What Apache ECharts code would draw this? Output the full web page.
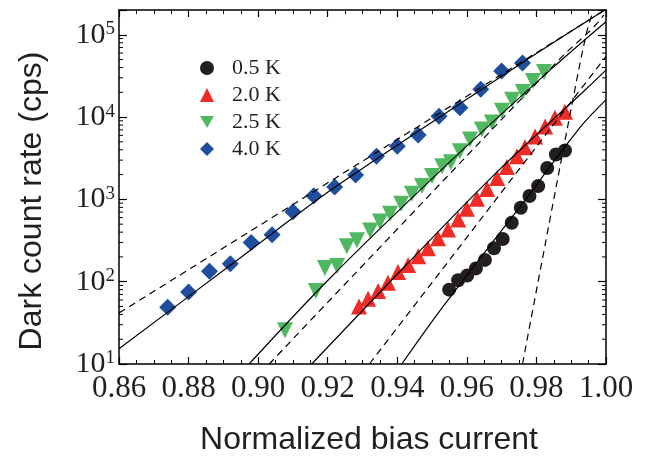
<!DOCTYPE html>
<html><head><meta charset="utf-8">
<script src="https://cdn.jsdelivr.net/npm/echarts@6/dist/echarts.min.js"></script>
<style>html,body{margin:0;padding:0;background:#fff}#c{width:663px;height:461px}</style>
</head><body><div id="c"></div>
<script>
// ---- axis ranges / ticks ----
const X_MIN = 0.86, X_MAX = 1.00, X_STEP = 0.02;
const Y_MIN = 10, Y_MAX = 200000;
const yTickExponents = [1, 2, 3, 4, 5];
const xTickLabels = ['0.86','0.88','0.90','0.92','0.94','0.96','0.98','1.00'];
const seriesNames = ['0.5 K', '2.0 K', '2.5 K', '4.0 K'];

// ---- measured data ----
const k05X = [0.9549,0.9575,0.9601,0.9626,0.9652,0.9678,0.9703,0.9729,0.9755,0.9780,0.9805,0.9831,0.9856,0.9882];
const k05Y = [80,104,119,145,184,255,330,520,790,1100,1450,2410,3510,3930];

const k20X = [0.9290,0.9316,0.9345,0.9373,0.9402,0.9431,0.9460,0.9488,0.9517,0.9546,0.9575,0.9600,0.9629,0.9658,0.9687,0.9715,0.9744,0.9767,0.9796,0.9825,0.9853,0.9882];
const k20Y = [50,62,77,97,131,159,204,255,336,431,569,771,1016,1341,1818,2466,3344,4288,5810,7670,9840,11610];

const k25X = [0.9077,0.9166,0.9192,0.9227,0.9255,0.9284,0.9322,0.9350,0.9379,0.9411,0.9442,0.9471,0.9500,0.9529,0.9554,0.9580,0.9609,0.9643,0.9672,0.9701,0.9730,0.9761,0.9790,0.9822];
const k25Y = [25.7,77,147,155,269,318,419,538,671,885,1167,1456,1921,2534,2833,3840,5350,7060,8570,11950,16200,20200,27400,35200];

const k40X = [0.874,0.880,0.886,0.892,0.898,0.904,0.910,0.916,0.922,0.928,0.934,0.940,0.946,0.952,0.958,0.964,0.970,0.976];
const k40Y = [49,75,134,165,300,372,710,1110,1410,1980,3340,4410,6060,10200,13000,21800,36400,45400];

// ---- fit curves (solid / dashed) ----
const fit40SolidX = [0.86,0.8919,0.9207,0.9494,0.9758,0.9993];
const fit40SolidY = [15.3,157,1279,8340,45400,195400];
const fit40DashX = [0.86,0.9993];
const fit40DashY = [41.6,195400];
const fit25SolidX = [0.8974,0.9207,0.9523,0.9839,1.0];
const fit25SolidY = [10,111,2208,37150,144200];
const fit25DashX = [0.9032,0.9207,0.9868,0.9964,0.9994];
const fit25DashY = [10,60.4,51300,123000,175000];
const fit20SolidX = [0.9154,0.9417,0.9695,0.9940,1.0];
const fit20SolidY = [10,146.6,2333,21330,37150];
const fit20DashX = [0.9320,1.0];
const fit20DashY = [10,54700];
const fit05SolidX = [0.9413,0.9533,0.9755,0.9925,1.0];
const fit05SolidY = [10,50.8,838,7460,16180];
const fit05DashX = [0.9760,0.9901,0.99445,0.9964];
const fit05DashY = [10,13450,107300,199500];

const colors = { k05:'#231f20', k20:'#ee2b24', k25:'#4fb860', k40:'#1f4e9f' };
const TXT = '#231f20';
const SERIF = 'Liberation Serif';
const SANS = 'Liberation Sans';

function zip(a, b){ return a.map((v,i)=>[v, b[i]]); }

// minor log ticks (2..9 x 10^k)
const minorY = [];
for (let e = yTickExponents[0]; e <= yTickExponents[yTickExponents.length-1]; e++) {
  for (let m = 2; m <= 9; m++) { const v = m * Math.pow(10, e); if (v < Y_MAX) minorY.push(v); }
}

function fitLine(xs, ys, dashed){
  return {
    type:'line', data: zip(xs, ys), showSymbol:false, symbol:'none', silent:true,
    smooth: xs.length > 2 ? 0.35 : false, z: 5,
    lineStyle:{ color:'#000', width:1.2, type: dashed ? [7,5] : 'solid' }
  };
}
function scatter(name, xs, ys, symbol, size, color){
  return { type:'scatter', name, data: zip(xs, ys), symbol, symbolSize:size,
    itemStyle:{ color, opacity:1 }, z:3 };
}

const chart = echarts.init(document.getElementById('c'), null, {renderer:'canvas'});
const xAxisCommon = {
  type:'value', min:X_MIN, max:X_MAX, interval:X_STEP,
  axisLine:{ show:true, onZero:false, lineStyle:{ color:'#000', width:1.5 } },
  axisTick:{ show:true, inside:true, length:7, lineStyle:{ color:'#000', width:1.2 } },
  minorTick:{ show:true, splitNumber:4, length:4, lineStyle:{ color:'#000', width:1 } },
  splitLine:{ show:false }
};
const yAxisCommon = {
  type:'log', logBase:10, min:Y_MIN, max:Y_MAX,
  axisLine:{ show:true, onZero:false, lineStyle:{ color:'#000', width:1.5 } },
  axisTick:{ show:true, inside:true, length:8, lineStyle:{ color:'#000', width:1.2 } },
  minorTick:{ show:false }, splitLine:{ show:false }
};

chart.setOption({
  animation:false,
  backgroundColor:'#fff',
  grid:{ left:119, right:57, top:10, bottom:94, containLabel:false },
  legend:{
    data: seriesNames, orient:'vertical', left:195, top:52,
    itemWidth:14, itemHeight:14, itemGap:5,
    textStyle:{ fontFamily:SERIF, fontSize:22, color:TXT, padding:[0,0,0,13] }
  },
  xAxis:[
    Object.assign({}, xAxisCommon, {
      position:'bottom',
      name:'Normalized bias current', nameLocation:'middle', nameGap:60,
      nameTextStyle:{ fontFamily:SANS, fontSize:32, color:TXT, padding:[0,0,0,13] },
      axisLabel:{ show:true, margin:9, fontFamily:SERIF, fontSize:31, color:TXT,
        formatter: v => { const i = Math.round((v - X_MIN)/X_STEP); return xTickLabels[i] || ''; } }
    }),
    Object.assign({}, xAxisCommon, { position:'top', axisLabel:{ show:false } })
  ],
  yAxis:[
    Object.assign({}, yAxisCommon, {
      position:'left',
      name:'Dark count rate (cps)', nameLocation:'middle', nameGap:71, nameRotate:90,
      nameTextStyle:{ fontFamily:SANS, fontSize:32, color:TXT, padding:[0,28,0,0] },
      axisLabel:{ show:true, margin:4, fontFamily:SERIF, fontSize:30, lineHeight:30, color:TXT,
        formatter: v => {
          const e = Math.log10(v), r = Math.round(e);
          if (Math.abs(e - r) > 1e-6 || yTickExponents.indexOf(r) < 0) return '';
          return '10{s|' + r + '}';
        },
        rich:{ s:{ fontFamily:SERIF, fontSize:19, lineHeight:19, verticalAlign:'top', color:TXT } }
      }
    }),
    Object.assign({}, yAxisCommon, { position:'right', axisLabel:{ show:false } })
  ],
  series:[
    scatter(seriesNames[0], k05X, k05Y, 'circle', 14, colors.k05),
    scatter(seriesNames[1], k20X, k20Y, 'triangle', 16, colors.k20),
    scatter(seriesNames[2], k25X, k25Y, 'path://M0,0 L10,0 L5,8.66 Z', 16, colors.k25),
    scatter(seriesNames[3], k40X, k40Y, 'diamond', 17, colors.k40),
    fitLine(fit40SolidX, fit40SolidY, false),
    fitLine(fit40DashX, fit40DashY, true),
    fitLine(fit25SolidX, fit25SolidY, false),
    fitLine(fit25DashX, fit25DashY, true),
    fitLine(fit20SolidX, fit20SolidY, false),
    fitLine(fit20DashX, fit20DashY, true),
    fitLine(fit05SolidX, fit05SolidY, false),
    fitLine(fit05DashX, fit05DashY, true),
    {
      type:'custom', silent:true, z:6, clip:false,
      data: minorY.map(v => [X_MIN, v]),
      renderItem: function(params, api){
        const v = api.value(1);
        const l = api.coord([X_MIN, v]);
        const r = api.coord([X_MAX, v]);
        return { type:'group', children:[
          { type:'line', shape:{ x1:l[0], y1:l[1], x2:l[0]+4, y2:l[1] }, style:{ stroke:'#000', lineWidth:1 } },
          { type:'line', shape:{ x1:r[0], y1:r[1], x2:r[0]-4, y2:r[1] }, style:{ stroke:'#000', lineWidth:1 } }
        ]};
      }
    }
  ]
});
</script>
</body></html>
